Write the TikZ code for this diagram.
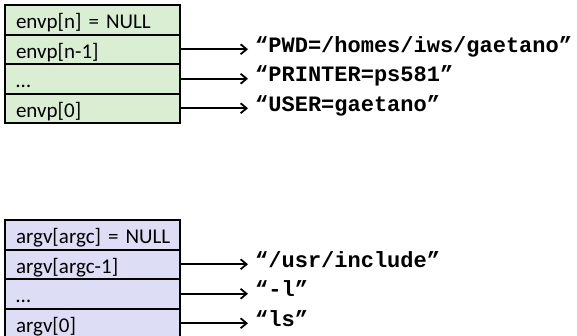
\documentclass[tikz,border=0pt]{standalone}
\usepackage{fontspec}
\setmainfont{Carlito}
\setmonofont{Liberation Mono}
\usepackage{tikz}
\usetikzlibrary{arrows.meta, positioning}
\definecolor{envcolor}{RGB}{217, 238, 211}
\definecolor{argcolor}{RGB}{221, 221, 245}
\definecolor{linecolor}{RGB}{0, 0, 0}
\tikzstyle{cell} = [draw=linecolor, rectangle, line width=2pt, outer sep=0pt, inner xsep=5pt, inner ysep=0pt, text width=165pt, align=left, minimum height=29.5pt, text height=21pt, text depth=3pt, execute at begin node=\hspace*{6pt}, font=\fontsize{21}{24}\selectfont]
\tikzstyle{envcell} = [cell, fill=envcolor]
\tikzstyle{argcell} = [cell, fill=argcolor]
\tikzstyle{str} = [inner xsep=7pt, inner ysep=0pt, text height=12pt, text depth=6pt, font=\fontsize{22}{24}\selectfont\ttfamily\bfseries]
\tikzstyle{arrow} = [line width=1.8pt, -{Straight Barb[length=6pt, width=10pt]}, color=linecolor]

\begin{document}
\begin{tikzpicture}
\useasboundingbox (0,0) rectangle (577pt,-335pt);

% Nodes
\node (envnull) [envcell, anchor=north west] at (5pt,-5pt) {envp[n] = NULL};
\node (envlast) [envcell, below=0pt of envnull] {envp[n-1]};
\node (envdots) [envcell, below=0pt of envlast] {…};
\node (envfirst) [envcell, below=0pt of envdots] {envp[0]};

\node (pwd) [str, anchor=west, right=68pt of envlast] {“PWD=/homes/iws/gaetano”};
\node (printer) [str, anchor=west, right=68pt of envdots] {“PRINTER=ps581”};
\node (user) [str, anchor=west, right=68pt of envfirst] {“USER=gaetano”};

\node (argnull) [argcell, below=97pt of envfirst] {argv[argc] = NULL};
\node (arglast) [argcell, below=0pt of argnull] {argv[argc-1]};
\node (argdots) [argcell, below=0pt of arglast] {…};
\node (argfirst) [argcell, below=0pt of argdots] {argv[0]};

\node (incl) [str, anchor=west, right=68pt of arglast] {“/usr/include”};
\node (optl) [str, anchor=west, right=68pt of argdots] {“-l”};
\node (cmdls) [str, anchor=west, right=68pt of argfirst] {“ls”};

% Arrows
\draw [arrow] (envlast) -- (pwd);
\draw [arrow] (envdots) -- (printer);
\draw [arrow] (envfirst) -- (user);

\draw [arrow] (arglast) -- (incl);
\draw [arrow] (argdots) -- (optl);
\draw [arrow] (argfirst) -- (cmdls);

\end{tikzpicture}
\end{document}
